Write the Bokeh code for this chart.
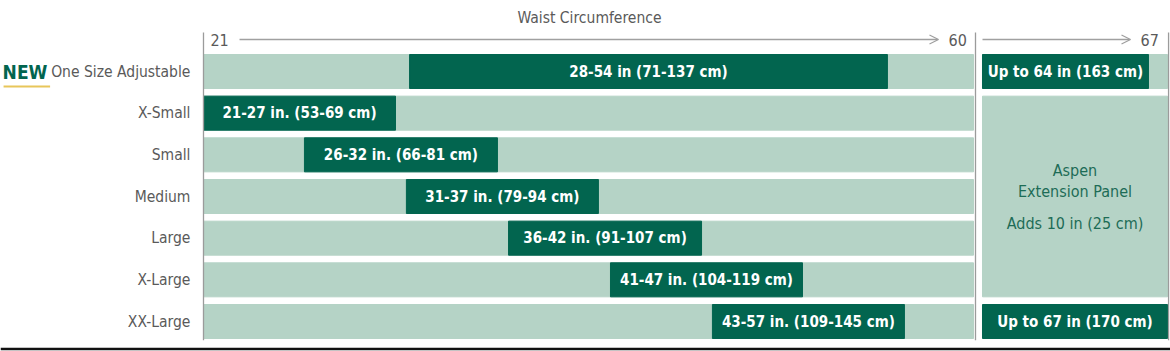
from bokeh.plotting import figure
from bokeh.models import Range1d, Arrow, OpenHead, ColumnDataSource
from bokeh.core.properties import value
from bokeh.embed import file_html
from bokeh.resources import INLINE

# ---------------- data ----------------
categories = ["One Size Adjustable", "X-Small", "Small", "Medium", "Large", "X-Large", "XX-Large"]
range_labels = ["28-54 in (71-137 cm)", "21-27 in. (53-69 cm)", "26-32 in. (66-81 cm)",
                "31-37 in. (79-94 cm)", "36-42 in. (91-107 cm)", "41-47 in. (104-119 cm)",
                "43-57 in. (109-145 cm)"]
# bar extents as drawn on the (non-proportional) waist axis, 21 .. 60
bar_start = [31.41, 21.0, 26.10, 31.25, 36.41, 41.56, 46.71]
bar_end = [55.55, 30.70, 35.85, 40.95, 46.16, 51.26, 56.41]
axis_min, axis_max = 21, 60
ext_min, ext_max = 60, 67
ext_labels = ["Up to 64 in (163 cm)", "Up to 67 in (170 cm)"]
ext_rows = [0, 6]
ext_end = [66.28, 67.0]
ext_note = ["Aspen", "Extension Panel", "Adds 10 in (25 cm)"]
title = "Waist Circumference"

LIGHT = "#b5d3c6"
DARK = "#02654f"
GRAY = "#5a5a5a"
FONT = value("DejaVu Sans Condensed, Liberation Sans Narrow, sans-serif")

rows = list(range(len(categories)))

p = figure(width=1170, height=351, output_backend="svg", toolbar_location=None,
           x_range=Range1d(10.745, 69.851), y_range=Range1d(6.72, -1.704),
           min_border=0, outline_line_color=None)
p.extra_x_ranges = {"ext": Range1d(22.845, 67.1135)}
p.axis.visible = False
p.grid.visible = False
p.background_fill_color = "white"
p.border_fill_color = "white"

H = 0.816
# background tracks, main panel
p.hbar(y=rows, left=axis_min, right=axis_max - 0.1, height=H, color=LIGHT)
# size bars
src = ColumnDataSource(dict(y=rows, left=bar_start, right=bar_end, lab=range_labels,
                            mid=[(a + b) / 2 for a, b in zip(bar_start, bar_end)]))
p.hbar(y="y", left="left", right="right", height=H, color=DARK, source=src)
p.text(x="mid", y="y", text="lab", source=src, text_align="center", text_baseline="middle",
       text_color="white", text_font=FONT, text_font_style="bold", text_font_size="15px")

# extension panel
p.hbar(y=[ext_rows[0]], left=ext_min, right=ext_max, height=H, color=LIGHT, x_range_name="ext")
p.quad(left=[ext_min], right=[ext_max], top=[1 - H / 2], bottom=[5 + H / 2], color=LIGHT, x_range_name="ext")
p.hbar(y=ext_rows, left=ext_min, right=ext_end, height=H, color=DARK, x_range_name="ext")
p.text(x=[(ext_min + e) / 2 for e in ext_end], y=ext_rows, text=ext_labels, x_range_name="ext",
       text_align="center", text_baseline="middle", text_color="white", text_font=FONT,
       text_font_style="bold", text_font_size="15px")
p.text(x=[(ext_min + ext_max) / 2] * 3, y=[2.37, 2.88, 3.65], text=ext_note, x_range_name="ext",
       text_align="center", text_baseline="middle", text_color="#1d6c56", text_font=FONT,
       text_font_size="16px")

# panel separators
p.segment(x0=[axis_min, axis_max], x1=[axis_min, axis_max], y0=-0.936, y1=6.45,
          line_color="#9b9b9b", line_width=1.3)
p.segment(x0=[ext_max + 0.04], x1=[ext_max + 0.04], y0=-0.936, y1=6.45,
          line_color="#9b9b9b", line_width=1.3, x_range_name="ext")

# axis arrows and end labels
p.add_layout(Arrow(x_start=22.82, x_end=58.13, y_start=-0.768, y_end=-0.768,
                   line_color="#a0a0a0", line_width=1.3,
                   end=OpenHead(size=9, line_color="#a0a0a0", line_width=1.3)))
p.add_layout(Arrow(x_start=ext_min, x_end=65.6, y_start=-0.768, y_end=-0.768, x_range_name="ext",
                   line_color="#a0a0a0", line_width=1.3,
                   end=OpenHead(size=9, line_color="#a0a0a0", line_width=1.3)))
p.text(x=[axis_min + 0.35, 58.64], y=[-0.768, -0.768], text=[str(axis_min), str(axis_max)],
       text_align="left", text_baseline="middle", text_color=GRAY, text_font=FONT, text_font_size="16px")
p.text(x=[65.98], y=[-0.768], text=[str(ext_max)], x_range_name="ext",
       text_align="left", text_baseline="middle", text_color=GRAY, text_font=FONT, text_font_size="16px")
p.text(x=[(axis_min + axis_max) / 2], y=[-1.296], text=[title], text_align="center",
       text_baseline="middle", text_color=GRAY, text_font=FONT, text_font_size="15.5px")

# category labels
p.text(x=20.34, y=rows, text=categories, text_align="right", text_baseline="middle",
       text_color=GRAY, text_font=FONT, text_font_size="15.5px")
# NEW marker
p.text(x=[10.85], y=[0.0], text=["NEW"], text_align="left", text_baseline="middle",
       text_color=DARK, text_font=FONT, text_font_style="bold", text_font_size="19px")
p.segment(x0=[10.9], x1=[13.25], y0=[0.36], y1=[0.36], line_color="#e8c65a", line_width=2)

# bottom rule
p.segment(x0=[10.745], x1=[69.851], y0=[6.66], y1=[6.66], line_color="#111111", line_width=2.5)

open("out.html", "w").write(file_html(p, INLINE))
